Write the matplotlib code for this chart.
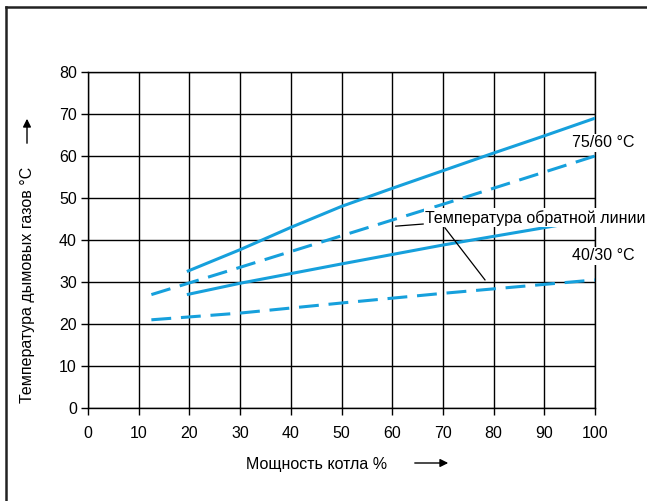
import matplotlib.pyplot as plt
from matplotlib.lines import Line2D

plt.rcParams['font.family'] = ['Liberation Sans', 'DejaVu Sans']

# Data
x_sup = [19.5, 30, 40, 50, 60, 70, 80, 90, 100]
y_sup = [32.5, 37.7, 43.0, 48.0, 52.3, 56.5, 60.7, 64.8, 69.0]

x_ret = [12.5, 30, 50, 70, 100]
y_ret = [27.0, 33.5, 41.0, 48.5, 60.0]

x_sup_low = [19.5, 30, 50, 70, 100]
y_sup_low = [27.0, 29.7, 34.3, 38.8, 45.0]

x_ret_low = [12.5, 30, 50, 70, 100]
y_ret_low = [21.0, 22.6, 25.0, 27.3, 30.5]

xticks = list(range(0, 101, 10))
yticks = list(range(0, 81, 10))

blue = '#16a0dc'
fs = 11.5

fig = plt.figure(figsize=(6.47, 5.01), dpi=100)
ax = fig.add_axes([88 / 647, 1 - 408 / 501, (595 - 88) / 647, (408 - 72) / 501])

ax.plot(x_sup, y_sup, color=blue, lw=2.2, solid_capstyle='butt', zorder=3)
ax.plot(x_ret, y_ret, color=blue, lw=2.2, dashes=(6.5, 3.2), zorder=3)
ax.plot(x_sup_low, y_sup_low, color=blue, lw=2.2, solid_capstyle='butt', zorder=3)
ax.plot(x_ret_low, y_ret_low, color=blue, lw=2.2, dashes=(6.5, 3.2), zorder=3)

ax.set_xlim(0, 100)
ax.set_ylim(0, 80)
ax.set_xticks(xticks)
ax.set_yticks(yticks)
ax.grid(True, color='black', lw=1)
ax.set_axisbelow(True)
for s in ax.spines.values():
    s.set_linewidth(1)
ax.tick_params(direction='out', length=5, width=1, labelsize=fs, pad=3)
ax.tick_params(axis='x', pad=8)

# labels on the right
box = dict(facecolor='white', edgecolor='none', pad=1)
ax.text(95.5, 63.1, '75/60 °C', fontsize=fs, va='center', ha='left', bbox=box, zorder=4, clip_on=False)
ax.text(95.5, 36.2, '40/30 °C', fontsize=fs, va='center', ha='left', bbox=box, zorder=4, clip_on=False)
ax.text(66.5, 45.3, 'Температура обратной линии', fontsize=fs, va='center', ha='left',
        bbox=box, zorder=4, clip_on=False)

# leader lines
ax.plot([60.7, 66.1], [43.3, 43.8], color='black', lw=0.9, zorder=5)
ax.plot([70.4, 78.3], [42.9, 30.5], color='black', lw=0.9, zorder=5)

# axis labels with arrows
fig.text(317 / 647, 1 - 465 / 501, 'Мощность котла %', fontsize=fs, ha='center', va='center')
fig.text(28 / 647, 1 - 285 / 501, 'Температура дымовых газов °C', fontsize=fs,
         ha='center', va='center', rotation=90)
fig.add_artist(plt.Annotation('', xy=(451 / 647, 1 - 463 / 501), xytext=(412 / 647, 1 - 463 / 501),
                              xycoords='figure fraction',
                              arrowprops=dict(arrowstyle='-|>', color='black', lw=1, mutation_scale=12)))
fig.add_artist(plt.Annotation('', xy=(27 / 647, 1 - 116 / 501), xytext=(27 / 647, 1 - 146 / 501),
                              xycoords='figure fraction',
                              arrowprops=dict(arrowstyle='-|>', color='black', lw=1, mutation_scale=12)))

# frame lines at top and left
fig.add_artist(Line2D([6 / 647, 1], [1 - 7 / 501, 1 - 7 / 501], transform=fig.transFigure,
                      color='#222222', lw=1.8))
fig.add_artist(Line2D([6 / 647, 6 / 647], [0, 1 - 7 / 501], transform=fig.transFigure,
                      color='#222222', lw=1.8))

fig.savefig('out.png', dpi=100)
